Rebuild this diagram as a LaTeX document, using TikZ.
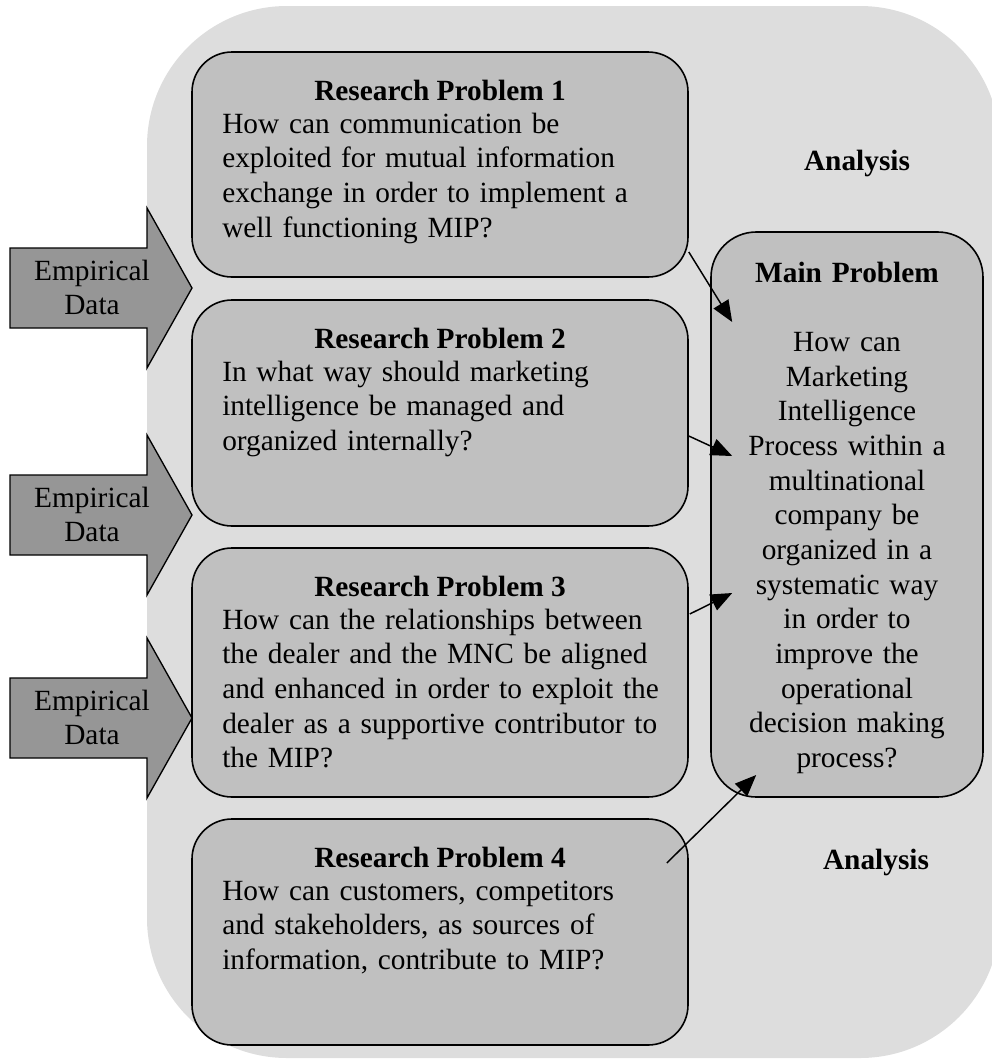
\documentclass[tikz,border=0pt]{standalone}
\usepackage{fontspec}
\setmainfont{Liberation Serif}
\usetikzlibrary{arrows.meta,calc}
\definecolor{panelgray}{RGB}{221,221,221}
\definecolor{boxgray}{RGB}{192,192,192}
\definecolor{arrowgray}{RGB}{150,150,150}
\begin{document}
\begin{tikzpicture}[x=0.75pt,y=-0.75pt,
  bodytext/.style={font=\fontsize{22}{26}\selectfont, inner sep=0pt, text width=345pt, align=left, anchor=base west},
  titletext/.style={font=\fontsize{22}{26}\selectfont\bfseries, inner sep=0pt, anchor=base},
  centertext/.style={font=\fontsize{22}{26}\selectfont, inner sep=0pt, align=center, anchor=base},
  probbox/.style={draw=black, line width=1.2pt, fill=boxgray, rounded corners=30pt, inner sep=0pt, minimum width=372pt},
  inflow/.style={draw=black, line width=1pt, fill=arrowgray},
  link/.style={line width=1.1pt, -{Triangle[length=16pt,width=13pt]}}]

\useasboundingbox (0,0) rectangle (992,1061);

% shared panel behind the problems
\fill[panelgray, rounded corners=105pt] (147,6) rectangle (1000,1058);

% empirical data inflow arrows
\draw[inflow] (10,248) -- (147,248) -- (147,208) -- (192,288) -- (147,368) -- (147,328) -- (10,328) -- cycle;
\draw[inflow] (10,475) -- (147,475) -- (147,435) -- (192,515) -- (147,595) -- (147,555) -- (10,555) -- cycle;
\draw[inflow] (10,678) -- (147,678) -- (147,638) -- (192,718) -- (147,798) -- (147,758) -- (10,758) -- cycle;
\node[centertext, text width=120pt] (emp1) at (92,280) {Empirical\\Data};
\node[centertext, text width=120pt] (emp2) at (92,507) {Empirical\\Data};
\node[centertext, text width=120pt] (emp3) at (92,710) {Empirical\\Data};

% research problem boxes
\node[probbox, minimum height=168.75pt] (rp1) at (440,164.5) {};
\node[probbox, minimum height=169.5pt] (rp2) at (440,413) {};
\node[probbox, minimum height=186.75pt] (rp3) at (440,672.5) {};
\node[probbox, minimum height=169.5pt] (rp4) at (440,932) {};

% main problem box
\node[probbox, rounded corners=34pt, minimum width=204pt, minimum height=423.75pt] (main) at (847,514.5) {};

% box texts
\node[titletext] (rp1t) at (440,100) {Research Problem 1};
\node[bodytext] (rp1b) at (222,133) {How can communication be\\exploited for mutual information\\exchange in order to implement a\\well functioning MIP?};

\node[titletext] (rp2t) at (440,348) {Research Problem 2};
\node[bodytext] (rp2b) at (222,381) {In what way should marketing\\intelligence be managed and\\organized internally?};

\node[titletext] (rp3t) at (440,596) {Research Problem 3};
\node[bodytext] (rp3b) at (222,629) {How can the relationships between\\the dealer and the MNC be aligned\\and enhanced in order to exploit the\\dealer as a supportive contributor to\\the MIP?};

\node[titletext] (rp4t) at (440,867) {Research Problem 4};
\node[bodytext] (rp4b) at (222,900) {How can customers, competitors\\and stakeholders, as sources of\\information, contribute to MIP?};

\node[centertext, text width=195pt] (maint) at (847,282) {\textbf{Main Problem}\\[26pt]How can\\Marketing\\Intelligence\\Process within a\\multinational\\company be\\organized in a\\systematic way\\in order to\\improve the\\operational\\decision making\\process?};

% analysis labels
\node[titletext] (an1) at (857,170) {Analysis};
\node[titletext] (an2) at (876,869) {Analysis};

% connectors into the main problem
\draw[link] ($(rp1.east)+(0,87.5)$) -- ($(main.west)+(22,-192.5)$);
\draw[link] ($(rp2.east)+(0,23)$) -- ($(main.west)+(22,-58.5)$);
\draw[link] ($(rp3.east)+(1,-58.5)$) -- ($(main.west)+(22,78.5)$);
\draw[link] ($(rp4.east)+(-22,-69)$) -- ($(main.west)+(46,260.5)$);
\end{tikzpicture}
\end{document}
